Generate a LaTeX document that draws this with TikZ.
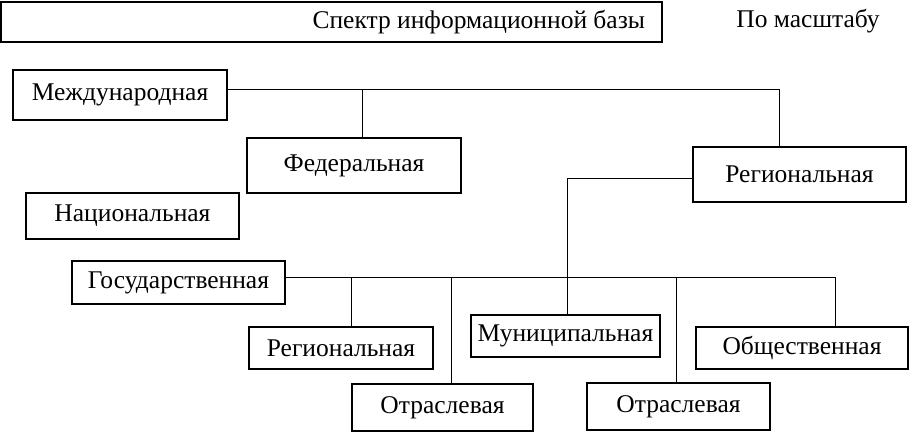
\documentclass[tikz,border=0pt]{standalone}
\usepackage{fontspec}
\setmainfont{Liberation Serif}
\begin{document}
\begin{tikzpicture}[x=1pt,y=-1pt,
  every node/.style={font=\fontsize{25.5}{30}\selectfont, inner sep=0pt, outer sep=0pt},
  thickbox/.style={draw, line width=2.6pt, rectangle},
  thinbox/.style={draw, line width=1.3pt, rectangle},
  conn/.style={draw, line width=1pt}]
\useasboundingbox (0,0) rectangle (909,433);
% boxes
\node[thickbox, minimum width=661pt, minimum height=40pt] (top) at (331.5,22) {};
\node[anchor=east] (toptext) at (645,22) {Спектр информационной базы};
\node (scale) at (808,21) {По масштабу};
\node[thickbox, minimum width=214pt, minimum height=50pt] (mezh) at (120,95) {Международная};
\node[thickbox, minimum width=214pt, minimum height=55pt] (fed) at (354,165.5) {Федеральная};
\node[thickbox, minimum width=213pt, minimum height=55pt] (regtop) at (799.5,174.5) {Региональная};
\node[thickbox, minimum width=213pt, minimum height=46pt] (nat) at (132.5,216) {Национальная};
\node[thinbox, minimum width=213pt, minimum height=43pt] (gos) at (178.5,282.5) {Государственная};
\node[thinbox, minimum width=184pt, minimum height=42pt] (regbot) at (341,348) {Региональная};
\node[thickbox, minimum width=189pt, minimum height=42pt] (mun) at (565.5,336) {Муниципальная};
\node[thinbox, minimum width=212pt, minimum height=42pt] (obsh) at (802,348) {Общественная};
\node[thickbox, minimum width=181pt, minimum height=47pt] (otr1) at (442.5,407.5) {Отраслевая};
\node[thinbox, minimum width=183pt, minimum height=47pt] (otr2) at (678.5,406.5) {Отраслевая};
% connectors
\coordinate (a1) at (362,90);
\coordinate (a2) at (779,90);
\draw[conn] (mezh.east |- a1) -- (a2) -- (a2 |- regtop.north);
\draw[conn] (a1) -- (a1 |- fed.north);
\coordinate (b1) at (567,178);
\draw[conn] (regtop.west |- b1) -- (b1) -- (b1 |- mun.north);
\coordinate (c1) at (835,277);
\coordinate (c2) at (351,277);
\coordinate (c3) at (451,277);
\coordinate (c4) at (676,277);
\draw[conn] (gos.east |- c1) -- (c1) -- (c1 |- obsh.north);
\draw[conn] (c2) -- (c2 |- regbot.north);
\draw[conn] (c3) -- (c3 |- otr1.north);
\draw[conn] (c4) -- (c4 |- otr2.north);
\end{tikzpicture}
\end{document}
